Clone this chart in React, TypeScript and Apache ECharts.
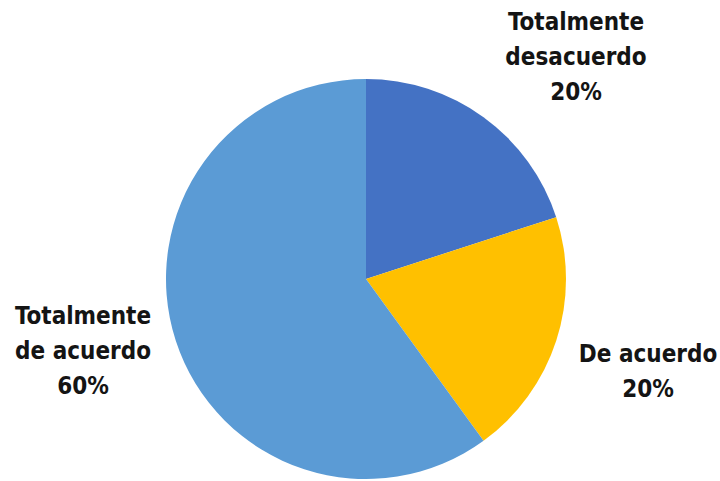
import React, { useEffect, useRef } from "react";
import * as echarts from "echarts";

const categories = ["Totalmente\ndesacuerdo", "De acuerdo", "Totalmente\nde acuerdo"];
const values = [20, 20, 60];
const colors = ["#4472C4", "#FFC000", "#5B9BD5"];
const labelCenters: [number, number][] = [
  [576, 57],
  [648, 371],
  [83, 351],
];

export default function App() {
  const ref = useRef<HTMLDivElement>(null);
  useEffect(() => {
    if (!ref.current) return;
    const chart = echarts.init(ref.current, undefined, { renderer: "svg" });
    chart.setOption({
      animation: false,
      backgroundColor: "#ffffff",
      series: [
        {
          type: "pie",
          center: [366, 279],
          radius: 200,
          startAngle: 90,
          clockwise: true,
          data: categories.map((name, i) => ({
            name,
            value: values[i],
            itemStyle: { color: colors[i] },
          })),
          label: {
            show: true,
            position: "outside",
            formatter: "{b}\n{d}%",
            fontFamily: "'DejaVu Sans Condensed', 'DejaVu Sans', sans-serif",
            fontWeight: "bold",
            fontSize: 24,
            lineHeight: 35,
            color: "#141414",
            align: "center",
            overflow: "none",
          },
          labelLine: { show: false },
          labelLayout: (params: any) => {
            const p = labelCenters[params.dataIndex];
            return {
              x: p[0],
              y: p[1],
              align: "center",
              verticalAlign: "middle",
            };
          },
          emphasis: { disabled: true },
        },
      ],
    });
    return () => chart.dispose();
  }, []);
  return (
    <div
      ref={ref}
      style={{ position: "fixed", left: 0, top: 0, width: 720, height: 481, background: "#fff" }}
    />
  );
}
